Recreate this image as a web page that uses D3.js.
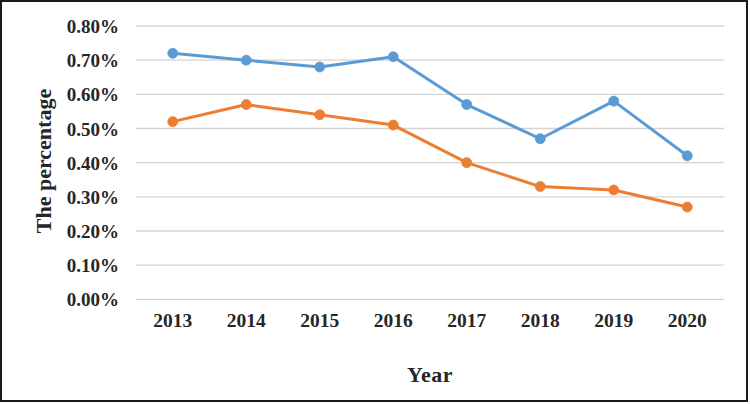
<!DOCTYPE html>
<html>
<head>
<meta charset="utf-8">
<script src="https://cdn.jsdelivr.net/npm/d3@7"></script>
<style>
  html, body { margin: 0; padding: 0; background: #fff; }
  svg { display: block; }
</style>
</head>
<body>
<script>
const years = ["2013", "2014", "2015", "2016", "2017", "2018", "2019", "2020"];
const seriesBlue = [0.72, 0.70, 0.68, 0.71, 0.57, 0.47, 0.58, 0.42];
const seriesOrange = [0.52, 0.57, 0.54, 0.51, 0.40, 0.33, 0.32, 0.27];
const yTicks = [0, 0.1, 0.2, 0.3, 0.4, 0.5, 0.6, 0.7, 0.8];
const xTitle = "Year";
const yTitle = "The percentage";

(function () {
const W = 750, H = 404;
const svg = d3.select("body").append("svg").attr("width", W).attr("height", H);

svg.append("rect").attr("width", W).attr("height", H).attr("fill", "#fff");
svg.append("rect").attr("x", 1).attr("y", 1).attr("width", 746).attr("height", 400)
  .attr("fill", "none").attr("stroke", "#1a1a1a").attr("stroke-width", 2);

const mLeft = 136, mRight = 724, mTop = 26, mBottom = 299.3;
const x = d3.scaleBand().domain(years).range([mLeft, mRight]);
const y = d3.scaleLinear().domain([0, 0.8]).range([mBottom, mTop]);

const font = '"Liberation Serif"';
const textColor = "#262626";

// gridlines
svg.append("g").selectAll("line").data(yTicks).join("line")
  .attr("x1", mLeft).attr("x2", mRight)
  .attr("y1", d => y(d)).attr("y2", d => y(d))
  .attr("stroke", "#d4d4d4").attr("stroke-width", 1.3);

// y axis labels
const yAxis = d3.axisLeft(y).tickValues(yTicks).tickSize(0).tickPadding(0)
  .tickFormat(d => d.toFixed(2) + "%");
const gy = svg.append("g").attr("transform", `translate(119,0)`).call(yAxis);
gy.attr("font-family", null).attr("font-size", null);
gy.select(".domain").remove();
gy.selectAll("text").style("font-family", font).style("font-weight", "bold")
  .style("font-size", "19px").attr("fill", textColor).attr("dy", "0.35em");

// x axis labels
const xAxis = d3.axisBottom(x).tickSize(0).tickPadding(0);
const gx = svg.append("g").attr("transform", `translate(0,313)`).call(xAxis);
gx.attr("font-family", null).attr("font-size", null);
gx.select(".domain").remove();
gx.selectAll("text").style("font-family", font).style("font-weight", "bold")
  .style("font-size", "19.5px").attr("fill", textColor).attr("dy", "0.71em");

// titles
svg.append("text").attr("x", (mLeft + mRight) / 2).attr("y", 382)
  .attr("text-anchor", "middle").style("font-family", font).style("font-weight", "bold")
  .style("font-size", "22px").attr("fill", textColor).style("letter-spacing", "0.5px").text(xTitle);

svg.append("text").attr("transform", `translate(51,161) rotate(-90)`)
  .attr("text-anchor", "middle").style("font-family", font).style("font-weight", "bold")
  .style("font-size", "22px").attr("fill", textColor).text(yTitle);

const line = d3.line().x((d, i) => x(years[i]) + x.bandwidth() / 2).y(d => y(d));

function drawSeries(values, color) {
  svg.append("path").datum(values).attr("d", line)
    .attr("fill", "none").attr("stroke", color).attr("stroke-width", 3)
    .attr("stroke-linejoin", "round");
  svg.append("g").selectAll("circle").data(values).join("circle")
    .attr("cx", (d, i) => x(years[i]) + x.bandwidth() / 2)
    .attr("cy", d => y(d)).attr("r", 5)
    .attr("fill", color).attr("stroke", color).attr("stroke-width", 0.8);
}
drawSeries(seriesOrange, "#ED7D31");
drawSeries(seriesBlue, "#5B9BD5");
})();
</script>
</body>
</html>
